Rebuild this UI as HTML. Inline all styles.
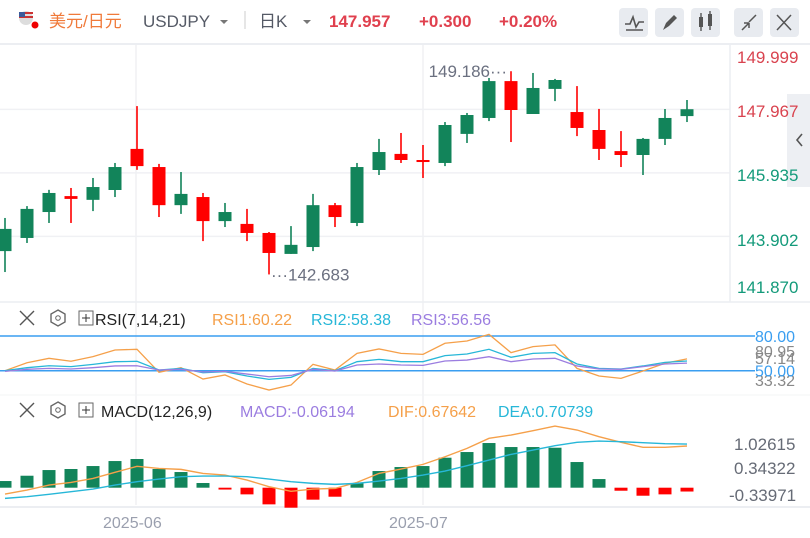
<!DOCTYPE html>
<html><head><meta charset="utf-8">
<style>
body{margin:0;width:810px;height:538px;overflow:hidden;background:#fff;font-family:"Liberation Sans","Noto Sans CJK SC",sans-serif;}
svg{display:block}
</style></head>
<body>
<svg id="c" width="810" height="538" xmlns="http://www.w3.org/2000/svg">
<g>
  <circle cx="26" cy="18" r="7" fill="#ddd"/>
  <rect x="19" y="12" width="14" height="2" fill="#c33"/><rect x="19" y="16" width="14" height="2" fill="#c33"/><rect x="19" y="12" width="6" height="5" fill="#3b5a9a"/>
  <circle cx="35" cy="25" r="3.5" fill="#e00"/>
  <text x="49" y="27" font-size="17" fill="#f07a3a">美元/日元</text>
  <text x="143" y="27" font-size="17" fill="#555a66">USDJPY</text>
  <path d="M220 20l4 4 4-4z" fill="#777"/>
  <line x1="245" y1="11" x2="245" y2="29" stroke="#ccc"/>
  <text x="259" y="27" font-size="17" fill="#555a66">日K</text>
  <path d="M303 20l4 4 4-4z" fill="#777"/>
  <text x="329" y="27" font-size="17" font-weight="bold" fill="#e0404e">147.957</text>
  <text x="419" y="27" font-size="17" font-weight="bold" fill="#e0404e">+0.300</text>
  <text x="499" y="27" font-size="17" font-weight="bold" fill="#e0404e">+0.20%</text>
  <g><rect x="619" y="8" width="29" height="29" rx="4" fill="#e8ebf0"/><path d="M625 24l5 0 3-7 3 10 3-5 5 0M626 30h17" stroke="#555" stroke-width="1.6" fill="none"/></g>
  <g><rect x="655" y="8" width="29" height="29" rx="4" fill="#e8ebf0"/><path d="M663 30l3-7 8-8 3 3-8 8z" fill="#555"/></g>
  <g><rect x="691" y="8" width="29" height="29" rx="4" fill="#e8ebf0"/><rect x="699" y="17" width="4" height="10" fill="#555"/><rect x="708" y="14" width="4" height="12" fill="#555"/><path d="M701 13v18M710 11v19" stroke="#555" stroke-width="1.4"/></g>
  <g><rect x="734" y="8" width="29" height="29" rx="4" fill="#e8ebf0"/><path d="M742 30l7-7M749 23h-5M749 23v5M756 15l-7 7M749 22" stroke="#555" stroke-width="1.5" fill="none"/></g>
  <g><rect x="770" y="8" width="29" height="29" rx="4" fill="#e8ebf0"/><path d="M777 15l14 15M791 15l-14 15" stroke="#555" stroke-width="1.5"/></g>
</g>
<line x1="0" y1="44" x2="810" y2="44" stroke="#eceef2" stroke-width="2"/>
<rect x="787" y="94" width="23" height="93" fill="#e6e8ee" fill-opacity="0.7"/>
<path d="M802 134l-5 6 5 6" stroke="#555" stroke-width="1.6" fill="none"/>
<g id="grid"></g>
<g id="main"></g>
<g id="rsi"></g>
<g id="macd"></g>
<g font-size="16">
  <path d="M20 311l14 14M34 311l-14 14" stroke="#555" stroke-width="1.4"/>
  <path d="M58 310l7 4v8l-7 4-7-4v-8z" stroke="#666" fill="none" stroke-width="1.4"/><circle cx="58" cy="318" r="2.3" stroke="#666" fill="none"/>
  <rect x="79" y="311" width="14" height="14" fill="none" stroke="#666"/><path d="M82 318h8M86 314v8" stroke="#333"/>
  <text x="95" y="325" fill="#222">RSI(7,14,21)</text>
  <text x="212" y="325" fill="#f5a04a">RSI1:60.22</text>
  <text x="311" y="325" fill="#27b7d8">RSI2:58.38</text>
  <text x="411" y="325" fill="#9b7de0">RSI3:56.56</text>
</g>
<g font-size="16">
  <path d="M20 403l14 14M34 403l-14 14" stroke="#555" stroke-width="1.4"/>
  <path d="M58 402l7 4v8l-7 4-7-4v-8z" stroke="#666" fill="none" stroke-width="1.4"/><circle cx="58" cy="410" r="2.3" stroke="#666" fill="none"/>
  <rect x="79" y="403" width="14" height="14" fill="none" stroke="#666"/><path d="M82 410h8M86 406v8" stroke="#333"/>
  <text x="101" y="417" fill="#222">MACD(12,26,9)</text>
  <text x="240" y="417" fill="#9b7de0">MACD:-0.06194</text>
  <text x="388" y="417" fill="#f5a04a">DIF:0.67642</text>
  <text x="498" y="417" fill="#27b7d8">DEA:0.70739</text>
</g>
<g font-size="17" fill="#666b76">
  <text x="734" y="450">1.02615</text><text x="734" y="474">0.34322</text><text x="729" y="501">-0.33971</text>
</g>
<g font-size="16" fill="#9a9fae">
  <text x="103" y="528">2025-06</text><text x="389" y="528">2025-07</text>
</g>
</svg>
<script>
const opens=[143.43,143.85,144.68,145.19,145.07,145.385,146.70,146.12,144.90,145.16,144.39,144.30,144.01,143.34,143.56,144.90,144.33,146.025,146.54,146.345,146.25,147.18,147.69,148.87,147.817,148.62,147.88,147.305,146.63,146.505,147.02,147.75];
const closes=[144.14,144.78,145.29,145.10,145.48,146.12,146.15,144.90,145.26,144.39,144.68,144.01,143.37,143.63,144.90,144.52,146.12,146.60,146.345,146.28,147.465,147.785,148.87,147.945,148.65,148.905,147.37,146.70,146.505,147.02,147.69,147.97];
const highs=[144.49,144.87,145.39,145.45,145.77,146.25,148.07,146.22,145.96,145.29,144.97,144.78,144.04,144.23,145.26,144.97,146.25,147.02,147.21,146.825,147.56,147.85,148.97,149.186,149.13,148.94,148.71,147.98,147.27,147.05,147.977,148.265];
const lows=[142.76,143.69,144.33,144.33,144.71,145.16,146.03,144.52,144.62,143.75,144.20,143.75,142.683,143.34,143.43,144.20,144.23,145.865,146.25,145.77,146.15,146.89,147.59,146.92,147.817,148.23,147.11,146.345,146.12,145.865,146.825,147.56];
const rsi1=[50.0,56.9,60.7,58.2,62.2,67.9,68.5,48.6,52.6,42.8,46.3,38.5,33.3,37.6,55.5,50.6,65.0,68.8,65.0,64.1,73.7,75.7,81.4,65.6,70.8,72.3,52.0,45.4,43.4,49.7,56.4,60.22];
const rsi2=[50.0,52.6,54.3,53.5,55.5,57.8,58.1,50.6,52.0,48.3,49.1,45.4,42.5,44.2,52.0,50.0,57.8,59.8,57.8,57.8,63.0,64.4,68.5,61.6,65.0,65.6,55.8,52.0,51.5,54.1,57.2,58.38];
const rsi3=[49.4,51.2,52.0,51.5,52.6,54.1,54.3,50.6,51.2,48.9,49.4,47.1,44.8,45.9,51.2,49.7,54.9,55.8,54.9,54.6,58.4,59.2,62.1,57.8,60.1,60.7,54.1,51.5,51.2,53.5,55.8,56.56];
const hist=[0.108,0.194,0.286,0.303,0.351,0.432,0.465,0.303,0.254,0.076,-0.03,-0.108,-0.27,-0.324,-0.194,-0.146,0.07,0.27,0.335,0.351,0.486,0.578,0.724,0.659,0.659,0.648,0.416,0.14,-0.049,-0.13,-0.108,-0.062];
const dif=[-0.103,-0.038,0.043,0.086,0.151,0.249,0.346,0.313,0.297,0.232,0.205,0.124,0.016,-0.059,-0.022,-0.011,0.086,0.232,0.303,0.378,0.502,0.637,0.8,0.854,0.924,0.999,0.935,0.827,0.735,0.654,0.654,0.676];
const dea=[-0.173,-0.146,-0.108,-0.065,-0.022,0.043,0.097,0.14,0.178,0.189,0.189,0.178,0.14,0.097,0.07,0.054,0.07,0.108,0.151,0.205,0.27,0.357,0.448,0.54,0.61,0.681,0.735,0.756,0.746,0.729,0.713,0.707];
const priceTicks=[149.999,147.967,145.935,143.902,141.870];
const rsiTicks=[80.00,50.00];

const NS='http://www.w3.org/2000/svg';
function mk(tag,attrs,parent){const e=document.createElementNS(NS,tag);for(const k in attrs)e.setAttribute(k,attrs[k]);parent.appendChild(e);return e;}
const X=i=>5+22*i;
const py=p=>(151.465-p)/0.032;
const ry=v=>370.7-(v-50)*1.157;
const my=v=>487.7-v*61.7;
const G=document.getElementById('grid');
[136,423].forEach(x=>{const l=mk('line',{x1:x,y1:45,x2:x,y2:505,stroke:'#f0f1f4','stroke-width':1.5},G);});
priceTicks.slice(1,4).forEach(p=>{const l=mk('line',{x1:0,y1:py(p),x2:730,y2:py(p),stroke:'#f0f1f4','stroke-width':1.5},G);});
mk('line',{x1:730,y1:45,x2:730,y2:302,stroke:'#eceef2','stroke-width':1.5},G);
mk('line',{x1:0,y1:302,x2:810,y2:302,stroke:'#eceef2','stroke-width':1.5},G);
mk('line',{x1:0,y1:395,x2:810,y2:395,stroke:'#f3f4f6','stroke-width':1},G);
mk('line',{x1:0,y1:507,x2:810,y2:507,stroke:'#eceef2','stroke-width':2},G);
const labY=[57,111,175,240,287];
priceTicks.forEach((p,i)=>{const t=mk('text',{x:737,y:labY[i]+6,'font-size':17,fill:i<2?'#d9434f':'#139a7a'},G);t.textContent=p.toFixed(3);});
const M=document.getElementById('main');
opens.forEach((o,i)=>{const c=closes[i];const up=c>=o;const col=up?'#12845a':'#ff0000';
 const g=mk('g',{},M);
 mk('line',{x1:X(i),y1:py(highs[i]),x2:X(i),y2:py(lows[i]),stroke:col,'stroke-width':1.6},g);
 const top=py(Math.max(o,c)),bot=py(Math.min(o,c));
 mk('rect',{x:X(i)-6.5,y:top,width:13,height:Math.max(bot-top,2),fill:col},g);});
let hi=0,lo=0;highs.forEach((h,i)=>{if(h>highs[hi])hi=i;});lows.forEach((l,i)=>{if(l<lows[lo])lo=i;});
let t=mk('text',{x:X(hi)-4,y:py(highs[hi])+6,'font-size':17,fill:'#6b7080','text-anchor':'end'},M);t.textContent=highs[hi].toFixed(3)+'···';

t=mk('text',{x:X(lo)+2,y:py(lows[lo])+6,'font-size':17,fill:'#6b7080'},M);t.textContent='···'+lows[lo].toFixed(3);

const R=document.getElementById('rsi');
rsiTicks.forEach(v=>{const l=mk('line',{x1:0,y1:ry(v),x2:755,y2:ry(v),stroke:'#3a9ef0','stroke-width':1.5},R);});
[['33.32',386],['57.14',364],['80.95',357]].forEach(a=>{const t=mk('text',{x:755,y:a[1],'font-size':16,fill:'#888'},R);t.textContent=a[0];});
rsiTicks.forEach(v=>{const t=mk('text',{x:755,y:ry(v)+6,'font-size':16,fill:'#3a9ef0'},R);t.textContent=v.toFixed(2);});
[[rsi1,'#f5a04a','rsi1-line'],[rsi2,'#27b7d8','rsi2-line'],[rsi3,'#9b7de0','rsi3-line']].forEach(s=>{
 const p=mk('polyline',{points:s[0].map((v,i)=>X(i)+','+ry(v)).join(' '),fill:'none',stroke:s[1],'stroke-width':1.3},R);
 });
const MC=document.getElementById('macd');
hist.forEach((v,i)=>{const y0=my(0),y1=my(v);const r=mk('rect',{x:X(i)-6.5,y:Math.min(y0,y1),width:13,height:Math.max(Math.abs(y1-y0),1.5),fill:v>=0?'#12845a':'#ff0000'},MC);
 });
[[dif,'#f5a04a','dif-line'],[dea,'#27b7d8','dea-line']].forEach(s=>{
 const p=mk('polyline',{points:s[0].map((v,i)=>X(i)+','+my(v)).join(' '),fill:'none',stroke:s[1],'stroke-width':1.4},MC);
 });
</script>
</body></html>
